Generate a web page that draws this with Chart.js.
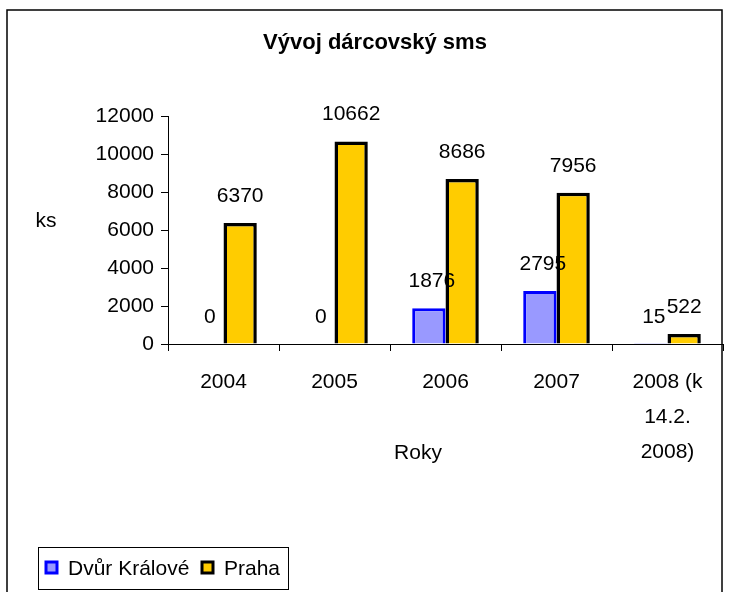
<!DOCTYPE html>
<html lang="cs">
<head>
    <meta charset="UTF-8">
    <title>Vývoj dárcovský sms</title>
    <script src="https://cdn.jsdelivr.net/npm/chart.js"></script>
    <style>
        html, body { margin: 0; padding: 0; background: #fff; }
        #wrap { width: 729px; height: 592px; }
    </style>
</head>
<body>
    <div id="wrap"><canvas id="smsChart" width="729" height="592"></canvas></div>

    <script>
        // data
        const roky = ['2004', '2005', '2006', '2007', ['2008 (k', '14.2.', '2008)']];
        const dvurKralove = [0, 0, 1876, 2795, 15];
        const praha = [6370, 10662, 8686, 7956, 522];
        const yMin = 0, yMax = 12000, yStep = 2000;

        const FONT = "'Liberation Sans', Arial, sans-serif";
        const SIZE = 21;

        // texts, value labels, frame and legend drawn on the canvas
        const decor = {
            id: 'decor',
            afterDraw(chart) {
                const ctx = chart.ctx;
                ctx.save();
                ctx.fillStyle = '#000';

                // frame round the whole chart
                ctx.strokeStyle = '#000';
                ctx.lineWidth = 1.5;
                ctx.strokeRect(7, 10, 715, 600);

                // title
                ctx.font = 'bold 22px ' + FONT;
                ctx.textAlign = 'center';
                ctx.textBaseline = 'middle';
                ctx.fillText('Vývoj dárcovský sms', 375, 43);

                // axis titles
                ctx.font = SIZE + 'px ' + FONT;
                ctx.fillText('ks', 46, 221);
                ctx.fillText('Roky', 418, 453);

                // value labels above bars
                chart.data.datasets.forEach((ds, i) => {
                    chart.getDatasetMeta(i).data.forEach((bar, j) => {
                        ctx.fillText(String(ds.data[j]), bar.x + (i === 0 ? 3 : 0), bar.y - 27);
                    });
                });

                // legend
                ctx.lineWidth = 1;
                ctx.strokeRect(38.5, 547.5, 250, 42);
                ctx.textAlign = 'left';
                const items = [
                    { x: 46, text: 'Dvůr Králové', ds: chart.data.datasets[0] },
                    { x: 202, text: 'Praha', ds: chart.data.datasets[1] }
                ];
                items.forEach(it => {
                    ctx.fillStyle = it.ds.backgroundColor;
                    ctx.fillRect(it.x, 562, 11, 11);
                    ctx.strokeStyle = it.ds.borderColor;
                    ctx.lineWidth = 3;
                    ctx.strokeRect(it.x, 562, 11, 11);
                    ctx.fillStyle = '#000';
                    ctx.fillText(it.text, it.x + 22, 569);
                });
                ctx.restore();
            }
        };

        new Chart(document.getElementById('smsChart').getContext('2d'), {
            type: 'bar',
            data: {
                labels: roky,
                datasets: [
                    {
                        label: 'Dvůr Králové',
                        data: dvurKralove,
                        backgroundColor: '#9999FF',
                        borderColor: '#0000FF',
                        borderWidth: ctx => (ctx.raw < 100 ? 0 : 3)
                    },
                    {
                        label: 'Praha',
                        data: praha,
                        backgroundColor: '#FFCC00',
                        borderColor: '#000000',
                        borderWidth: 3.5
                    }
                ]
            },
            options: {
                responsive: false,
                animation: false,
                categoryPercentage: 0.6,
                barPercentage: 1.0,
                layout: { padding: { left: 8, right: 6, top: 116, bottom: 0 } },
                plugins: {
                    legend: { display: false },
                    title: { display: false },
                    tooltip: { enabled: false }
                },
                scales: {
                    x: {
                        grid: { drawOnChartArea: false, tickLength: 7, color: '#000', offset: true },
                        border: { color: '#000', width: 1 },
                        ticks: {
                            color: '#000',
                            padding: 14,
                            maxRotation: 0,
                            autoSkip: false,
                            font: { family: FONT, size: SIZE, lineHeight: 1.67 }
                        },
                        afterFit(scale) { scale.height = 248; }
                    },
                    y: {
                        min: yMin,
                        max: yMax,
                        grid: { drawOnChartArea: false, tickLength: 7, color: '#000' },
                        border: { color: '#000', width: 1 },
                        ticks: {
                            stepSize: yStep,
                            color: '#000',
                            padding: 7,
                            font: { family: FONT, size: SIZE },
                            callback: v => String(v)
                        },
                        afterFit(scale) { scale.width = 160; }
                    }
                }
            },
            plugins: [decor]
        });
    </script>
</body>
</html>
